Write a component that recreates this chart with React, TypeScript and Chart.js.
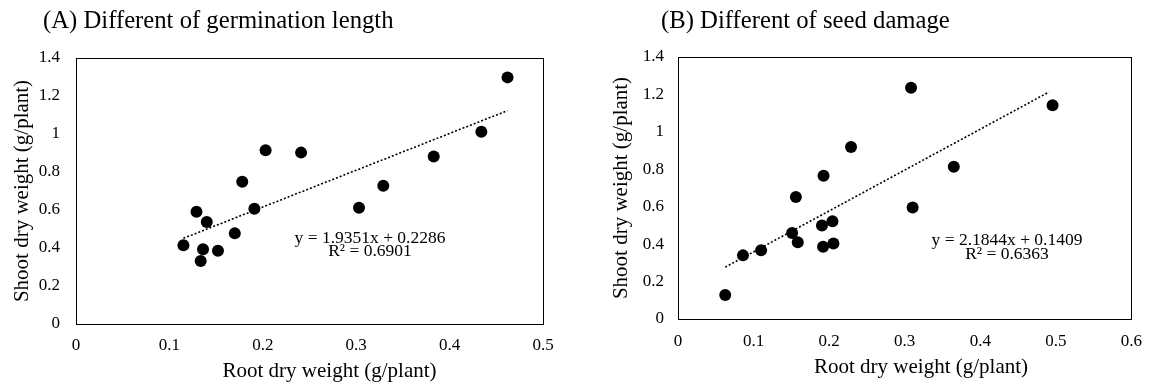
import React, { useEffect, useRef } from 'react';
import { Chart, registerables } from 'chart.js';

Chart.register(...registerables);

const FONT = '"Liberation Serif", "Times New Roman", serif';

// ---- Texts ----
const titleA = '(A) Different of germination length';
const titleB = '(B) Different of seed damage';
const xAxisTitle = 'Root dry weight (g/plant)';
const yAxisTitle = 'Shoot dry weight (g/plant)';
const equationA = ['y = 1.9351x + 0.2286', 'R² = 0.6901'];
const equationB = ['y = 2.1844x + 0.1409', 'R² = 0.6363'];

// ---- Panel A data ----
const rootA = [0.115, 0.129, 0.140, 0.136, 0.1335, 0.152, 0.170, 0.178, 0.191, 0.203, 0.241, 0.303, 0.329, 0.383, 0.434, 0.462];
const shootA = [0.414, 0.591, 0.537, 0.393, 0.332, 0.386, 0.477, 0.749, 0.607, 0.914, 0.902, 0.612, 0.728, 0.881, 1.012, 1.298];
const trendRootA = [0.115, 0.462];
const trendShootA = [0.451, 1.123];

// ---- Panel B data ----
const rootB = [0.0625, 0.086, 0.110, 0.151, 0.156, 0.1585, 0.1905, 0.192, 0.1926, 0.2044, 0.2057, 0.229, 0.3084, 0.3105, 0.365, 0.4957];
const shootB = [0.128, 0.340, 0.367, 0.460, 0.652, 0.410, 0.500, 0.386, 0.766, 0.522, 0.404, 0.919, 1.236, 0.596, 0.814, 1.142];
const trendRootB = [0.0625, 0.491];
const trendShootB = [0.277, 1.213];

// ---- Axis ranges / ticks ----
const yMax = 1.4;
const yStep = 0.2;
const xMaxA = 0.5;
const xMaxB = 0.6;
const xStep = 0.1;

const fmt = (v: number) => String(Math.round(v * 10) / 10);

const boxAndText = {
  id: 'boxAndText',
  beforeDatasetsDraw(chart: any) {
    const { ctx, chartArea } = chart;
    ctx.save();
    ctx.strokeStyle = '#000';
    ctx.lineWidth = 1;
    ctx.strokeRect(
      Math.round(chartArea.left) + 0.5,
      Math.round(chartArea.top) + 0.5,
      Math.round(chartArea.right - chartArea.left),
      Math.round(chartArea.bottom - chartArea.top)
    );
    ctx.restore();
  },
  afterDraw(chart: any, _args: any, opts: any) {
    const { ctx } = chart;
    const texts = (opts && opts.texts) || [];
    ctx.save();
    ctx.fillStyle = '#000';
    for (const t of texts) {
      ctx.font = `${t.size}px ${FONT}`;
      ctx.textAlign = t.align;
      ctx.textBaseline = t.baseline;
      ctx.fillText(t.text, t.x, t.y);
    }
    ctx.restore();
  },
};

type PanelProps = {
  left: number;
  width: number;
  roots: number[];
  shoots: number[];
  trendX: number[];
  trendY: number[];
  xMax: number;
  padTop: number;
  padRight: number;
  yAxisWidth: number;
  xAxisHeight: number;
  yTitlePad: number;
  yTickPad: number;
  xTickPad: number;
  texts: any[];
};

function Panel(p: PanelProps) {
  const ref = useRef<HTMLCanvasElement | null>(null);
  useEffect(() => {
    if (!ref.current) return;
    const chart = new Chart(ref.current, {
      type: 'scatter',
      data: {
        datasets: [
          {
            label: 'points',
            data: p.roots.map((x, i) => ({ x, y: p.shoots[i] })),
            backgroundColor: '#000',
            borderWidth: 0,
            pointRadius: 6,
            pointHoverRadius: 6,
            order: 1,
          },
          {
            label: 'trend',
            type: 'line',
            data: p.trendX.map((x, i) => ({ x, y: p.trendY[i] })),
            borderColor: '#000',
            borderWidth: 1.6,
            borderDash: [2, 2],
            pointRadius: 0,
            fill: false,
            order: 2,
          } as any,
        ],
      },
      options: {
        responsive: false,
        animation: false,
        devicePixelRatio: 1,
        layout: { padding: { top: p.padTop, right: p.padRight, left: 0, bottom: 0 } },
        plugins: {
          legend: { display: false },
          tooltip: { enabled: false },
          title: { display: false },
          boxAndText: { texts: p.texts },
        } as any,
        scales: {
          x: {
            type: 'linear',
            min: 0,
            max: p.xMax,
            grid: { display: false, drawTicks: false },
            border: { display: false },
            ticks: {
              stepSize: xStep,
              padding: p.xTickPad,
              color: '#000',
              font: { family: FONT, size: 17 },
              callback: (v: any) => fmt(Number(v)),
              maxRotation: 0,
            },
            afterFit: (s: any) => {
              s.height = p.xAxisHeight;
            },
          },
          y: {
            type: 'linear',
            min: 0,
            max: yMax,
            grid: { display: false, drawTicks: false },
            border: { display: false },
            ticks: {
              stepSize: yStep,
              padding: p.yTickPad,
              color: '#000',
              font: { family: FONT, size: 17 },
              callback: (v: any) => fmt(Number(v)),
            },
            title: {
              display: true,
              text: yAxisTitle,
              color: '#000',
              font: { family: FONT, size: 21 },
              padding: { top: p.yTitlePad, bottom: 0 },
            },
            afterFit: (s: any) => {
              s.width = p.yAxisWidth;
            },
          },
        },
      },
      plugins: [boxAndText],
    });
    return () => chart.destroy();
  }, []);
  return (
    <div style={{ position: 'absolute', left: p.left, top: 0, width: p.width, height: 392 }}>
      <canvas ref={ref} width={p.width} height={392} style={{ display: 'block' }} />
    </div>
  );
}

export default function App() {
  const textsA = [
    { text: titleA, x: 43, y: 28, size: 24.7, align: 'left', baseline: 'alphabetic' },
    { text: xAxisTitle, x: 329.5, y: 377, size: 21, align: 'center', baseline: 'alphabetic' },
    { text: equationA[0], x: 370, y: 238, size: 17.5, align: 'center', baseline: 'middle' },
    { text: equationA[1], x: 370, y: 251.5, size: 17.5, align: 'center', baseline: 'middle' },
  ];
  const textsB = [
    { text: titleB, x: 84, y: 28, size: 24.7, align: 'left', baseline: 'alphabetic' },
    { text: xAxisTitle, x: 344, y: 373, size: 21, align: 'center', baseline: 'alphabetic' },
    { text: equationB[0], x: 430, y: 240, size: 17.5, align: 'center', baseline: 'middle' },
    { text: equationB[1], x: 430, y: 254, size: 17.5, align: 'center', baseline: 'middle' },
  ];
  return (
    <div style={{ position: 'absolute', left: 0, top: 0, width: 1154, height: 392, background: '#fff' }}>
      <Panel
        left={0}
        width={570}
        roots={rootA}
        shoots={shootA}
        trendX={trendRootA}
        trendY={trendShootA}
        xMax={xMaxA}
        padTop={58}
        padRight={27}
        yAxisWidth={76}
        xAxisHeight={68}
        yTitlePad={9.4}
        yTickPad={16}
        xTickPad={11}
        texts={textsA}
      />
      <Panel
        left={577}
        width={577}
        roots={rootB}
        shoots={shootB}
        trendX={trendRootB}
        trendY={trendShootB}
        xMax={xMaxB}
        padTop={57}
        padRight={18}
        yAxisWidth={101}
        xAxisHeight={73}
        yTitlePad={32}
        yTickPad={14}
        xTickPad={12}
        texts={textsB}
      />
    </div>
  );
}
